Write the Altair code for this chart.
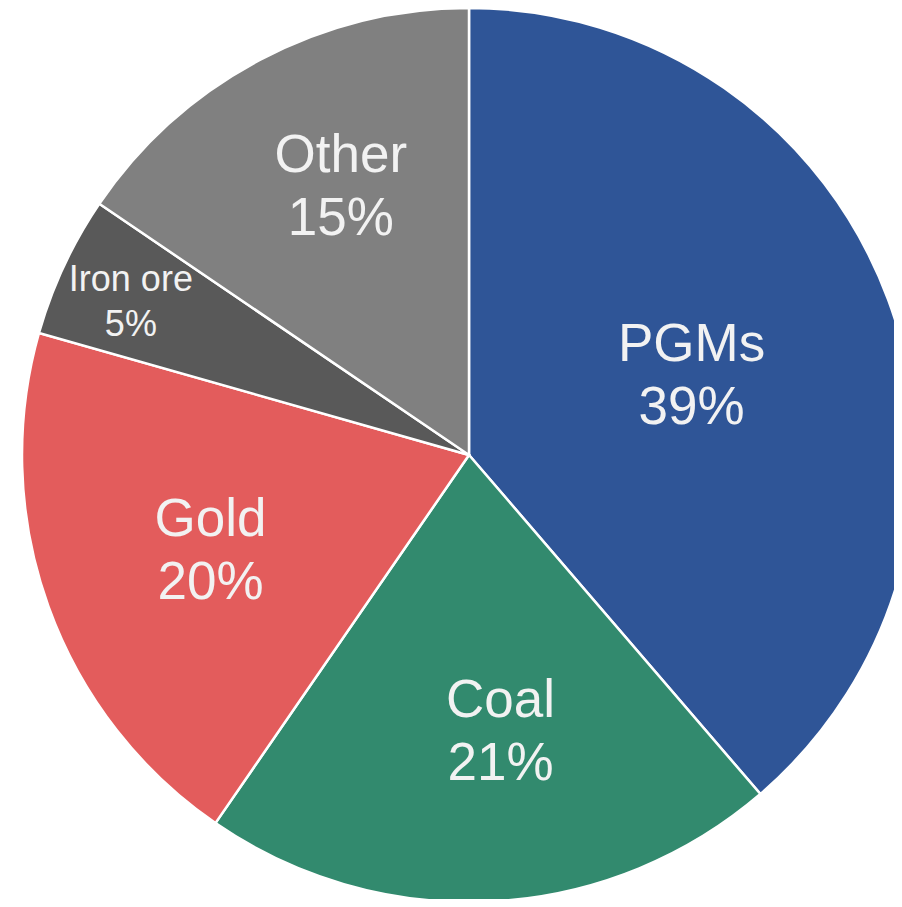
import altair as alt
import pandas as pd
import math

categories = ["PGMs", "Coal", "Gold", "Iron ore", "Other"]
shares = [38.7, 20.9, 19.8, 5.1, 15.5]
pct_labels = ["39%", "21%", "20%", "5%", "15%"]
colors = ["#2F5597", "#328A6E", "#E35C5C", "#595959", "#808080"]

# layout settings for labels (distance from centre, small angular nudge in
# share units, size class) - not data
label_radius = [236, 279, 276, 371, 297]
label_nudge = [0.25, -0.95, -0.2, -0.2, 0.65]
label_big = [True, True, True, False, True]

df = pd.DataFrame({
    "cat": categories,
    "share": shares,
    "order": list(range(len(categories))),
    "label": [f"{c}\n{p}" for c, p in zip(categories, pct_labels)],
    "lr": label_radius,
    "nudge": label_nudge,
    "big": label_big,
})

CX, CY, R = 461, 447, 447
theta_scale = alt.Scale(domain=[0, 100], range=[0, 2 * math.pi])

pie = alt.Chart(df).mark_arc(outerRadius=R, stroke="white", strokeWidth=2.5).encode(
    theta=alt.Theta("share:Q", stack=True, scale=theta_scale),
    order=alt.Order("order:Q", sort="ascending"),
    x=alt.value(CX),
    y=alt.value(CY),
    color=alt.Color("cat:N", scale=alt.Scale(domain=categories, range=colors), legend=None),
)

def label_layer(size, line_h, sel):
    return alt.Chart(df).transform_window(
        cum="sum(share)", sort=[alt.SortField("order", order="ascending")],
        frame=[None, 0],
    ).transform_calculate(
        mid="datum.cum - datum.share / 2 + datum.nudge"
    ).transform_filter(sel).mark_text(
        font="Liberation Sans",
        fontSize=size,
        color="#F2F2F2",
        align="center",
        baseline="middle",
        lineBreak="\n",
        lineHeight=line_h,
        dy=-line_h / 2,
    ).encode(
        theta=alt.Theta("mid:Q", stack=None, scale=theta_scale),
        x=alt.value(CX),
        y=alt.value(CY),
        radius=alt.Radius("lr:Q", scale=None),
        text="label:N",
    )

big = label_layer(53, 63, "datum.big")
small = label_layer(36, 45, "!datum.big")

chart = alt.layer(pie, big, small).properties(
    width=886, height=891, padding=0, autosize=alt.AutoSizeParams(type="none")
).configure_view(stroke=None)

chart.save("out.html", embed_options={"renderer": "svg", "actions": False})
